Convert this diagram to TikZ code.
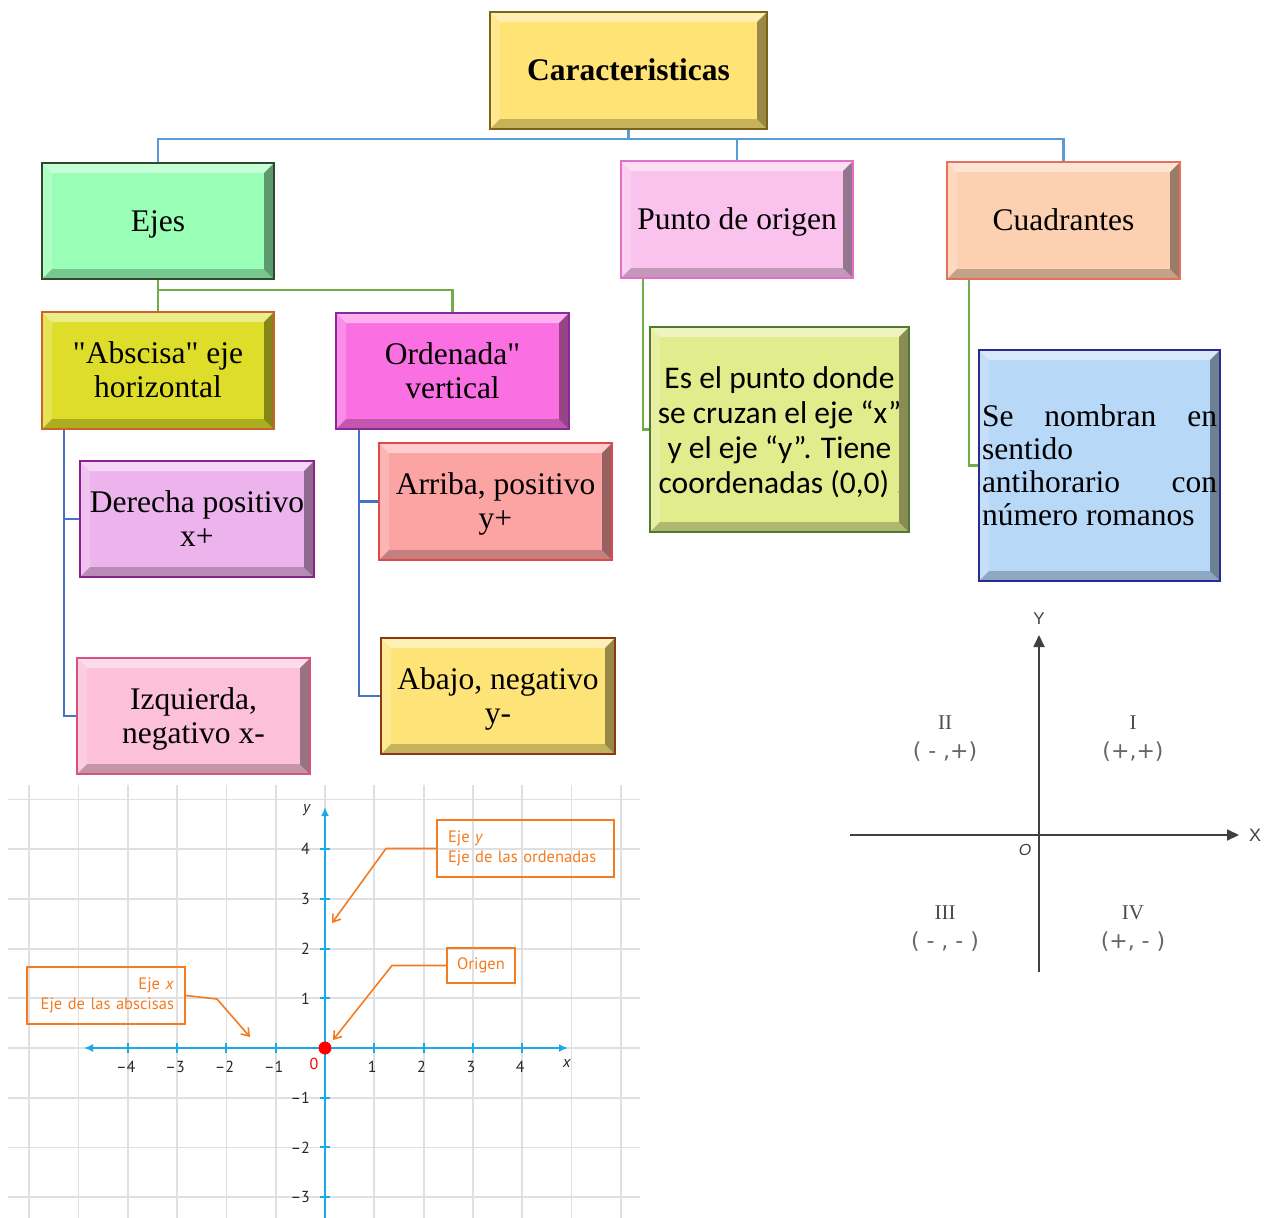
\documentclass[tikz,border=0pt]{standalone}
\usepackage{fontspec}
\setmainfont{Liberation Serif}[Ligatures=TeXOff]
\newfontfamily\calibri{Carlito}
\newfontfamily\gfont{PT Sans}
\newfontfamily\qfont{Liberation Sans}
\newfontfamily\dvs{DejaVu Sans}
\usetikzlibrary{arrows.meta,calc}

\definecolor{carF}{HTML}{FFE375}\definecolor{carB}{HTML}{7A6418}
\definecolor{ejeF}{HTML}{9AFFB6}\definecolor{ejeB}{HTML}{2E4A2E}
\definecolor{punF}{HTML}{FAC3EE}\definecolor{punB}{HTML}{E56FC8}
\definecolor{cuaF}{HTML}{FCD0B0}\definecolor{cuaB}{HTML}{E8705A}
\definecolor{absF}{HTML}{DEDE2A}\definecolor{absB}{HTML}{C8642A}
\definecolor{ordF}{HTML}{FA70E2}\definecolor{ordB}{HTML}{8A2A9A}
\definecolor{derF}{HTML}{EDB3ED}\definecolor{derB}{HTML}{8B1F8B}
\definecolor{izqF}{HTML}{FCC0D8}\definecolor{izqB}{HTML}{D9527F}
\definecolor{arrF}{HTML}{FCA3A3}\definecolor{arrB}{HTML}{E04848}
\definecolor{abaF}{HTML}{FEE478}\definecolor{abaB}{HTML}{8A3A10}
\definecolor{eseF}{HTML}{E1EC8D}\definecolor{eseB}{HTML}{4F7A2F}
\definecolor{senF}{HTML}{B8D8F8}\definecolor{senB}{HTML}{2A2A90}
\definecolor{lnBlue}{HTML}{5B9BD5}
\definecolor{lnGreen}{HTML}{70AD47}
\definecolor{lnBlue2}{HTML}{4472C4}
\definecolor{gridc}{HTML}{E0E0E0}
\definecolor{axc}{HTML}{1EA8E6}
\definecolor{orc}{HTML}{F47B20}

\newcommand\sst{\rule[-7pt]{0pt}{34pt}}

\tikzset{
  bevel/.style={path picture={
    \fill[white,opacity=.45] (path picture bounding box.north west) -- (path picture bounding box.north east)
      -- ([xshift=-10pt,yshift=-10pt]path picture bounding box.north east) -- ([xshift=10pt,yshift=-10pt]path picture bounding box.north west) -- cycle;
    \fill[white,opacity=.2] (path picture bounding box.north west) -- ([xshift=10pt,yshift=-10pt]path picture bounding box.north west)
      -- ([xshift=10pt,yshift=10pt]path picture bounding box.south west) -- (path picture bounding box.south west) -- cycle;
    \fill[black,opacity=.22] (path picture bounding box.south west) -- ([xshift=10pt,yshift=10pt]path picture bounding box.south west)
      -- ([xshift=-10pt,yshift=10pt]path picture bounding box.south east) -- (path picture bounding box.south east) -- cycle;
    \fill[black,opacity=.4] (path picture bounding box.north east) -- (path picture bounding box.south east)
      -- ([xshift=-10pt,yshift=10pt]path picture bounding box.south east) -- ([xshift=-10pt,yshift=-10pt]path picture bounding box.north east) -- cycle;
  }},
  cbox/.style 2 args={rectangle, fill=#1, draw=#2, line width=2pt, inner sep=2pt, align=center, bevel,
    font=\fontsize{31.5}{34}\selectfont},
  conB/.style={draw=lnBlue, line width=2.5pt},
  conG/.style={draw=lnGreen, line width=2.5pt},
  conB2/.style={draw=lnBlue2, line width=2.5pt},
  gline/.style={draw=gridc, line width=1.8pt},
  axis/.style={draw=axc, line width=2.5pt},
  gnum/.style={font=\gfont\fontsize{16}{18}\selectfont, text=black!85, inner sep=1pt},
  obox/.style={draw=orc, line width=1.8pt, text=orc, font=\gfont\fontsize{16.5}{20}\selectfont, inner sep=0pt},
  olead/.style={draw=orc, line width=1.6pt, -{Straight Barb[length=7pt,width=10pt]}},
  qaxis/.style={draw=black!75, line width=1.8pt, -{Triangle[length=12pt,width=11pt]}},
  qlab/.style={font=\fontsize{21}{24}\selectfont, text=black!70},
  qsign/.style={font=\dvs\fontsize{22}{24}\selectfont, text=black!60},
}

\begin{document}
\begin{tikzpicture}[x=1pt,y=-1pt]
\useasboundingbox (0,0) rectangle (1272,1218);

% ---------- concept map ----------
\node[cbox={carF}{carB}, minimum width=277pt, minimum height=117pt] (car) at (628.5,70.5) {\sst\textbf{Caracteristicas}};
\node[cbox={ejeF}{ejeB}, minimum width=232pt, minimum height=116pt] (ejes) at (158,221) {\sst Ejes};
\node[cbox={punF}{punB}, minimum width=232pt, minimum height=117pt] (punto) at (737,219.5) {\sst Punto de origen};
\node[cbox={cuaF}{cuaB}, minimum width=233pt, minimum height=117pt] (cuad) at (1063.5,220.5) {\sst Cuadrantes};
\node[cbox={absF}{absB}, minimum width=232pt, minimum height=117pt] (absc) at (158,370.5) {\sst"Abscisa" eje\\\sst horizontal};
\node[cbox={ordF}{ordB}, minimum width=233pt, minimum height=116pt] (orde) at (452.5,371) {\sst Ordenada"\\\sst vertical};
\node[cbox={derF}{derB}, minimum width=234pt, minimum height=116pt] (dere) at (197,519) {\sst Derecha positivo\\\sst x+};
\node[cbox={izqF}{izqB}, minimum width=233pt, minimum height=116pt] (izq) at (193.5,716) {\sst Izquierda,\\\sst negativo x-};
\node[cbox={arrF}{arrB}, minimum width=233pt, minimum height=117pt] (arri) at (495.5,501.5) {\sst Arriba, positivo\\\sst y+};
\node[cbox={abaF}{abaB}, minimum width=234pt, minimum height=116pt] (abaj) at (498,696) {\sst Abajo, negativo\\\sst y-};
\node[cbox={eseF}{eseB}, minimum width=259pt, minimum height=205pt, font=\calibri\fontsize{31.5}{35}\selectfont] (esel) at (779.5,429.5)
  {\rule{0pt}{27pt}Es el punto donde\\se cruzan el eje “x”\\y el eje “y”. Tiene\\coordenadas (0,0) {\color{black!25}\fontsize{16}{16}\selectfont .}};
\node[cbox={senF}{senB}, minimum width=241pt, minimum height=231pt, inner sep=1pt] (senom) at (1099.5,465.5)
  {\parbox{235pt}{\fontsize{31.5}{33}\selectfont Se\hfill nombran\hfill en\\sentido\\antihorario\hfill con\\número romanos}};

% connectors
\draw[conB] (car.south) -- ++(0,9) -| (ejes.north);
\draw[conB] (car.south) -- ++(0,9) -| (punto.north);
\draw[conB] (car.south) -- ++(0,9) -| (cuad.north);
\draw[conG] (ejes.south) -- (absc.north);
\draw[conG] (ejes.south) -- ++(0,10) -| (orde.north);
\draw[conG] ([xshift=23pt]punto.south west) |- (esel.west);
\draw[conG] ([xshift=23pt]cuad.south west) |- (senom.west);
\draw[conB2] ([xshift=23pt]absc.south west) |- (dere.west);
\draw[conB2] ([xshift=23pt]absc.south west) |- (izq.west);
\draw[conB2] ([xshift=24pt]orde.south west) |- (arri.west);
\draw[conB2] ([xshift=24pt]orde.south west) |- (abaj.west);

% ---------- coordinate grid (bottom left) ----------
\foreach \k in {-6,...,6} \draw[gline] ({325+49.3*\k},785) -- ({325+49.3*\k},1218);
\foreach \k in {-5,...,3} \draw[gline] (8,{1048+49.7*\k}) -- (640,{1048+49.7*\k});

\coordinate (xl) at (84,1048);
\coordinate (xr) at (568,1048);
\coordinate (yb) at (325,1218);
\coordinate (yt) at (325,807);
\draw[axis, {Latex[length=9pt,width=8pt]}-{Latex[length=9pt,width=8pt]}] (xl) -- (xr);
\draw[axis, -{Latex[length=9pt,width=8pt]}] (yb) -- (yt);
\foreach \k/\t in {-4/–4,-3/–3,-2/–2,-1/–1,1/1,2/2,3/3,4/4} {
  \draw[draw=axc, line width=2pt] ({325+49.3*\k},1043) -- ({325+49.3*\k},1053);
  \node[gnum] (xt\k) at ({325+49.3*\k-2},1067) {\t};
}
\foreach \k/\t in {-3/–3,-2/–2,-1/–1,1/1,2/2,3/3,4/4} {
  \draw[draw=axc, line width=2pt] (320,{1048-49.7*\k}) -- (330,{1048-49.7*\k});
  \node[gnum, anchor=east] (yt\k) at (311,{1048-49.7*\k}) {\t};
}
\node[gnum, text=red] (zero) at (314,1064) {0};
\node[gnum] (xlab) at (567,1063) {\textit{x}};
\node[gnum] (ylab) at (307,810) {\textit{y}};
\node[circle, fill=red, minimum size=13pt, inner sep=0pt] (odot) at (325,1048) {};

% callouts
\node[obox, minimum width=177pt, minimum height=57pt, align=left, text width=155pt] (eyb) at (525.5,848.5)
  {Eje \textit{y}\\Eje de las ordenadas};
\node[obox, minimum width=68pt, minimum height=35pt] (orb) at (481,965.5) {Origen};
\node[obox, minimum width=158pt, minimum height=57pt, align=right, text width=136pt] (exb) at (106,995.5)
  {Eje \textit{x}\\Eje de las abscisas};
\coordinate (eytip) at (332,923);
\coordinate (ortip) at (333,1040);
\coordinate (extip) at (250,1037);
\draw[olead] (eyb.west) -- (386,848.5) -- (eytip);
\draw[olead] (orb.west) -- (392,965.5) -- (ortip);
\draw[olead] (exb.east) -- (217,999) -- (extip);

% ---------- quadrants (right) ----------
\coordinate (qxl) at (850,835);
\coordinate (qxr) at (1239,835);
\coordinate (qyb) at (1039,972);
\coordinate (qyt) at (1039,635);
\draw[qaxis] (qxl) -- (qxr);
\draw[qaxis] (qyb) -- (qyt);
\node[font=\qfont\fontsize{18}{20}\selectfont, text=black!75] (qX) at (1255,835) {X};
\node[font=\qfont\fontsize{17}{20}\selectfont, text=black!75] (qY) at (1039,619) {Y};
\node[font=\qfont\itshape\fontsize{16}{18}\selectfont, text=black!75] (qO) at (1025,850) {O};
\node[qlab] (q2) at (945,723) {II};
\node[qsign] (q2s) at (945,752) {( - ,+)};
\node[qlab] (q1) at (1133,723) {I};
\node[qsign] (q1s) at (1133,752) {(+,+)};
\node[qlab] (q3) at (945,913) {III};
\node[qsign] (q3s) at (945,942) {( - , - )};
\node[qlab] (q4) at (1133,913) {IV};
\node[qsign] (q4s) at (1133,942) {(+, - )};
\end{tikzpicture}
\end{document}
